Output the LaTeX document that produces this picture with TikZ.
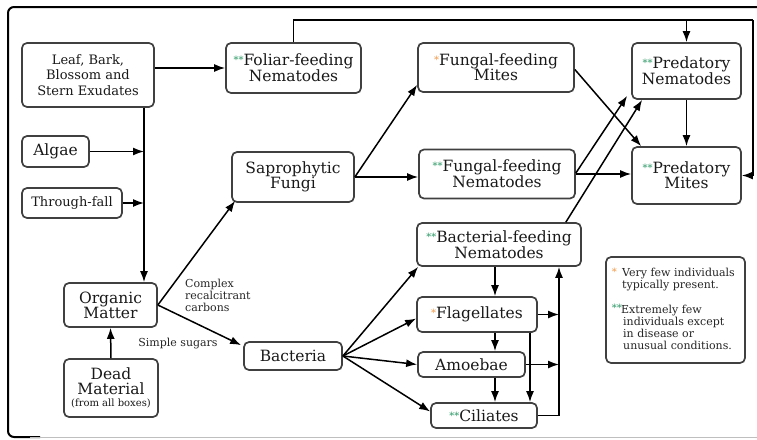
\documentclass[tikz,border=0pt]{standalone}
\usepackage{fontspec}
\setmainfont{DejaVu Serif}
\usetikzlibrary{arrows.meta,calc}
\definecolor{starorange}{HTML}{F29A4A}
\definecolor{stargreen}{HTML}{2E9A68}
\newcommand{\oneStar}{{\color{starorange}\raisebox{2pt}{\fontsize{10}{10}\selectfont *}}}
\newcommand{\twoStars}{{\color{stargreen}\raisebox{2pt}{\fontsize{10}{10}\selectfont **}}}
\begin{document}
\begin{tikzpicture}[x=1pt,y=-1pt,
  box/.style={draw=black!75, line width=1.7pt, rounded corners=5pt, fill=white, inner sep=0pt, align=center, text=black!90},
  arr/.style={line width=1.5pt, -{Latex[length=11pt,width=8pt]}},
  ln/.style={line width=1.5pt},
  big/.style={font=\fontsize{15.5}{15}\selectfont},
  mid/.style={font=\fontsize{13}{15.5}\selectfont},
  note/.style={font=\fontsize{11}{12}\selectfont, text=black!85, inner sep=0pt, align=left}]
\useasboundingbox (0,0) rectangle (757,439);
% frame
\draw[line width=2pt, rounded corners=6pt] (757,7) -- (8,7) -- (8,437) -- (40,437);
\draw[black!25, line width=1pt] (30,437.5) -- (757,437.5);

% nodes
\node[box, mid, minimum width=132pt, minimum height=64pt] (leaf) at (88,75) {Leaf, Bark,\\Blossom and\\Stern Exudates};
\node[box, big, minimum width=135pt, minimum height=50pt] (foliar) at (293.5,68) {\twoStars Foliar-feeding\\Nematodes};
\node[box, big, minimum width=67pt, minimum height=31pt] (algae) at (55.5,151.5) {Algae};
\node[box, mid, minimum width=100pt, minimum height=30pt] (through) at (72,203) {Through-fall};
\node[box, big, minimum width=122pt, minimum height=50pt] (fungi) at (293,177) {Saprophytic\\Fungi};
\node[box, big, minimum width=93pt, minimum height=44pt] (organic) at (110.5,305) {Organic\\Matter};
\node[box, font=\fontsize{15.5}{14.5}\selectfont, minimum width=94pt, minimum height=58pt] (dead) at (111,388) {Dead\\Material\\[-2pt]{\fontsize{10}{10}\selectfont (from all boxes)}};
\node[box, big, minimum width=98pt, minimum height=28pt] (bacteria) at (293,356) {Bacteria};
\node[box, big, minimum width=156pt, minimum height=49pt] (ffmites) at (496,67.5) {\oneStar Fungal-feeding\\Mites};
\node[box, big, minimum width=109pt, minimum height=56pt] (prednem) at (686.5,71) {\twoStars Predatory\\Nematodes};
\node[box, big, minimum width=156pt, minimum height=49pt] (ffnem) at (497,174) {\twoStars Fungal-feeding\\Nematodes};
\node[box, big, minimum width=109pt, minimum height=57pt] (predmites) at (686.5,175.5) {\twoStars Predatory\\Mites};
\node[box, big, minimum width=164pt, minimum height=43pt] (bfnem) at (499,244.5) {\twoStars Bacterial-feeding\\Nematodes};
\node[box, big, minimum width=120pt, minimum height=35pt] (flag) at (477,314.5) {\oneStar Flagellates};
\node[box, big, minimum width=107pt, minimum height=25pt] (amoeb) at (471.5,364.5) {Amoebae};
\node[box, big, minimum width=106pt, minimum height=25pt] (cil) at (484,415.5) {\twoStars Ciliates};
\node[box, minimum width=139pt, minimum height=106pt] (legend) at (675.5,310) {};

% labels
\node[note, anchor=north west] (lblcomplex) at (185,279) {Complex\\recalcitrant\\carbons};
\node[note] (lblsugar) at (178,344) {Simple sugars};

% legend text
\node[note, anchor=north east, text=starorange, font=\fontsize{10}{10}\selectfont] (legstar1) at (617,268) {*};
\node[note, anchor=north west] (legtext1) at (622,268) {Very few individuals\\typically present.};
\node[note, anchor=north east, text=stargreen, font=\fontsize{10}{10}\selectfont] (legstar2) at (622,304) {**};
\node[note, anchor=north west] (legtext2) at (621,305) {Extremely few\\\hspace*{2pt}individuals except\\\hspace*{2pt}in disease or\\\hspace*{2pt}unusual conditions.};

% helper coordinates
\coordinate (spine) at (144,0);
\coordinate (toprt) at (753,20);
\coordinate (colA) at (495,0);
\coordinate (colB) at (530,0);
\coordinate (colR) at (559,0);

% connectors
\draw[arr] (leaf.east |- foliar.west) -- (foliar.west);
\draw[arr] (leaf.south -| spine) -- (organic.north -| spine);
\draw[arr] (algae.east) -- (algae.east -| spine);
\draw[arr] (through.east) -- (through.east -| spine);
\draw[arr] (dead.north) -- (organic.south);
\draw[arr] (organic.east) -- ($(fungi.south west)+(4,-2)$);
\draw[arr] (organic.east) -- ($(bacteria.north west)+(-2,4)$);

\draw[arr] (fungi.east) -- ($(ffmites.south west)+(0,-8)$);
\draw[arr] (fungi.east) -- (fungi.east -| ffnem.west);

\draw[ln] (foliar.north) |- (toprt);
\draw[arr] (toprt) |- (predmites.east);
\draw[arr] (prednem.north |- toprt) -- (prednem.north);
\draw[arr] (prednem.south) -- (predmites.north);
\draw[arr] ($(ffmites.east)+(0,2)$) -- ($(predmites.north west)+(10,0)$);
\draw[arr] (ffnem.east) -- (ffnem.east -| predmites.west);
\draw[arr] ($(ffnem.east)+(0,-1)$) -- ($(prednem.south west)+(-4,-4)$);
\draw[arr] ($(bfnem.north east)+(-16,0)$) -- ($(prednem.south west)+(11,0)$);

\draw[arr] (bacteria.east) -- ($(bfnem.south west)+(2,0)$);
\draw[arr] (bacteria.east) -- ($(flag.west)+(0,4)$);
\draw[arr] (bacteria.east) -- (amoeb.west);
\draw[arr] (bacteria.east) -- ($(cil.west)+(0,-4)$);

\draw[arr] (bfnem.south -| colA) -- (flag.north -| colA);
\draw[arr] (flag.south -| colA) -- (amoeb.north -| colA);
\draw[arr] (amoeb.south -| colA) -- (cil.north -| colA);
\draw[arr] (flag.south -| colB) -- (cil.north -| colB);
\draw[arr] (flag.east) -- (flag.east -| colR);
\draw[arr] (amoeb.east) -- (amoeb.east -| colR);
\draw[arr] (cil.east) -| (bfnem.south -| colR);
\end{tikzpicture}
\end{document}
